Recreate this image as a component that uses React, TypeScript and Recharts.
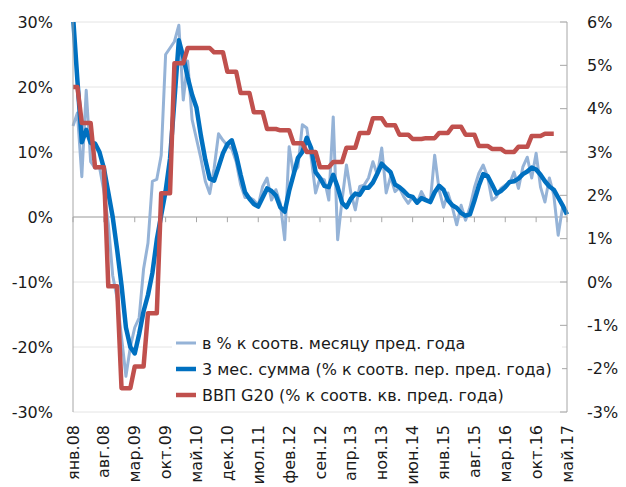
import React from "react";
import { LineChart, Line, XAxis, YAxis, CartesianGrid, ReferenceLine } from "recharts";

const MONTH_NAMES = ["янв", "фев", "мар", "апр", "май", "июн", "июл", "авг", "сен", "окт", "ноя", "дек"];
const YEARS = ["08", "09", "10", "11", "12", "13", "14", "15", "16", "17"];
const MONTH_COUNT = 113; // янв.08 .. май.17

const CATEGORIES: string[] = YEARS.flatMap((y) => MONTH_NAMES.map((m) => `${m}.${y}`)).slice(0, MONTH_COUNT);

// в % к соотв. месяцу пред. года (left axis)
const MONTHLY = [
  14.0, 16.0, 6.2, 19.5, 8.5, 7.5, 7.7, 4.0, -1.0, -9.0, -12.5, -18.5,
  -24.5, -20.0, -17.0, -15.5, -8.0, -4.0, 5.5, 5.8, 9.5, 25.0, 26.0, 27.0,
  29.5, 18.0, 24.0, 15.0, 12.0, 9.0, 5.5, 3.6, 7.5, 12.8, 11.8, 11.0,
  10.5, 8.5, 5.0, 3.0, 3.0, 2.6, 1.8, 4.7, 6.0, 2.6, 4.2, 2.1,
  -3.5, 10.8, 6.7, 7.7, 14.2, 13.7, 9.2, 3.7, 6.0, 5.7, 2.6, 15.4,
  -3.5, 2.6, 8.0, 3.7, 1.1, 4.7, 4.9, 6.0, 8.5, 6.5, 10.6, 3.7,
  6.2, 3.9, 4.5, 3.1, 2.1, 3.1, 2.1, 3.9, 2.6, 2.3, 9.5, 4.2,
  1.5, 3.7, 1.5, -1.2, 1.8, -0.5, 1.5, 4.5, 6.7, 8.0, 6.2, 2.6,
  3.1, 4.4, 4.9, 5.2, 6.9, 4.4, 7.7, 9.2, 6.0, 9.8, 4.6, 2.3,
  6.0, 3.4, -2.8, 1.5, 0.8,
];

// 3 мес. сумма (left axis)
const THREE_MONTH = [
  31.0, 21.0, 11.5, 13.4, 11.4, 11.3, 10.0, 7.5, 3.8, 0.0, -5.0, -10.5,
  -17.0, -20.0, -21.0, -18.0, -14.5, -12.0, -8.6, -3.5, 0.3, 4.0, 9.0, 18.0,
  27.2, 24.6, 21.5, 18.8, 16.8, 12.5, 8.8, 5.9, 5.6, 7.7, 9.8, 11.2,
  11.8, 9.5, 6.5, 3.8, 2.8, 2.0, 1.6, 3.0, 4.4, 4.0, 3.3, 1.5,
  0.8, 4.0, 6.5, 9.1, 10.0, 12.2, 10.6, 6.9, 6.0, 4.8, 4.6, 6.5,
  4.6, 2.2, 1.5, 2.8, 3.6, 3.4, 4.5, 4.5, 5.3, 6.7, 8.2, 7.5,
  6.9, 5.0, 4.6, 4.0, 3.3, 3.1, 2.2, 2.9, 2.6, 2.3, 3.8, 4.8,
  4.2, 2.6, 1.8, 1.4, 0.6, 0.2, 0.4, 2.5, 4.8, 6.6, 6.3, 5.0,
  3.6, 4.0, 4.6, 5.4, 5.5, 5.9, 6.6, 7.0, 7.6, 7.3, 6.5, 5.5,
  4.7, 4.2, 3.0, 1.8, 0.4,
];

// ВВП G20, quarterly value shown on each month (right axis)
const G20_GDP: (number | null)[] = [
  4.5, 4.5, 3.67, 3.67, 3.67, 2.65, 2.65, 2.65, -0.1, -0.1, -0.1, -2.45,
  -2.45, -2.45, -1.95, -1.95, -1.95, -0.72, -0.72, -0.72, 2.05, 2.05, 2.05, 5.05,
  5.05, 5.05, 5.4, 5.4, 5.4, 5.4, 5.4, 5.4, 5.3, 5.3, 5.3, 4.85,
  4.85, 4.85, 4.36, 4.36, 4.36, 3.92, 3.92, 3.92, 3.53, 3.53, 3.53, 3.5,
  3.5, 3.5, 3.2, 3.2, 3.2, 3.0, 3.0, 3.0, 2.65, 2.65, 2.65, 2.77,
  2.77, 2.77, 3.1, 3.1, 3.1, 3.44, 3.44, 3.44, 3.78, 3.78, 3.78, 3.62,
  3.62, 3.62, 3.4, 3.4, 3.4, 3.3, 3.3, 3.3, 3.32, 3.32, 3.32, 3.44,
  3.44, 3.44, 3.58, 3.58, 3.58, 3.4, 3.4, 3.4, 3.14, 3.14, 3.14, 3.07,
  3.07, 3.07, 3.0, 3.0, 3.0, 3.12, 3.12, 3.12, 3.37, 3.37, 3.37, 3.42,
  3.42, 3.42, null, null, null,
];

const LEFT_TICKS = [-30, -20, -10, 0, 10, 20, 30];
const RIGHT_TICKS = [-3, -2, -1, 0, 1, 2, 3, 4, 5, 6];

const SERIES = [
  { key: "monthly", name: "в % к соотв. месяцу пред. года", color: "#95B3D7", width: 3 },
  { key: "threeMonth", name: "3 мес. сумма (% к соотв. пер. пред. года)", color: "#0070C0", width: 4.5 },
  { key: "g20", name: "ВВП G20 (% к соотв. кв. пред. года)", color: "#C0504D", width: 4.5 },
];

const data = CATEGORIES.map((month, i) => ({
  month,
  monthly: MONTHLY[i],
  threeMonth: THREE_MONTH[i],
  g20: G20_GDP[i],
}));

const labelTicks = CATEGORIES.filter((_, i) => i % 7 === 0);

const FONT = "'DejaVu Sans', sans-serif";
const FONT_SIZE = 16;
const TEXT = "#1a1a1a";
const AXIS = "#a6a6a6";

const MonthTick = (props: any) => {
  const { x, y, payload } = props;
  return (
    <text
      x={x}
      y={y}
      transform={`rotate(-90 ${x} ${y})`}
      textAnchor="end"
      dominantBaseline="central"
      fontSize={FONT_SIZE}
      fontFamily={FONT}
      fill={TEXT}
    >
      {payload.value}
    </text>
  );
};

const RightTick = (props: any) => {
  const { x, y, payload } = props;
  return (
    <g>
      <line x1={x - 27} x2={x - 20} y1={y} y2={y} stroke={AXIS} />
      <text x={x} y={y} dy="0.35em" textAnchor="start" fontSize={FONT_SIZE} fontFamily={FONT} fill={TEXT}>
        {payload.value}%
      </text>
    </g>
  );
};

export default function App() {
  return (
    <div style={{ position: "absolute", left: 0, top: 0, width: 626, height: 487, background: "#fff" }}>
      <LineChart width={626} height={487} data={data} margin={{ top: 22, right: 0, bottom: 0, left: 0 }}>
        <CartesianGrid yAxisId="left" vertical={false} stroke="#e4e4e4" />
        <XAxis
          dataKey="month"
          interval={6}
          height={75}
          axisLine={false}
          tickLine={false}
          tickSize={0}
          tickMargin={13}
          tick={<MonthTick />}
        />
        <YAxis
          yAxisId="left"
          width={73}
          domain={[-30, 30]}
          ticks={LEFT_TICKS}
          allowDataOverflow
          tickFormatter={(v) => `${v}%`}
          tick={{ fontSize: FONT_SIZE, fontFamily: FONT, fill: TEXT }}
          axisLine={{ stroke: AXIS }}
          tickLine={false}
          tickSize={0}
          tickMargin={20}
        />
        <YAxis
          yAxisId="right"
          orientation="right"
          width={59}
          domain={[-3, 6]}
          ticks={RIGHT_TICKS}
          allowDataOverflow
          tick={<RightTick />}
          axisLine={{ stroke: AXIS }}
          tickLine={false}
          tickSize={0}
          tickMargin={20}
        />
        <ReferenceLine yAxisId="left" y={0} stroke={AXIS} />
        {labelTicks.map((m) => (
          <ReferenceLine
            key={m}
            yAxisId="left"
            stroke={AXIS}
            segment={[
              { x: m, y: 0 },
              { x: m, y: -0.8 },
            ]}
          />
        ))}
        {SERIES.map((s) => (
          <Line
            key={s.key}
            yAxisId={s.key === "g20" ? "right" : "left"}
            type="linear"
            dataKey={s.key}
            name={s.name}
            stroke={s.color}
            strokeWidth={s.width}
            strokeLinejoin="round"
            dot={false}
            activeDot={false}
            isAnimationActive={false}
          />
        ))}
      </LineChart>
      <div
        style={{
          position: "absolute",
          left: 172,
          top: 330,
          width: 390,
          background: "#fff",
          fontFamily: FONT,
          fontSize: FONT_SIZE,
          color: TEXT,
        }}
      >
        {SERIES.map((s) => (
          <div key={s.key} style={{ display: "flex", alignItems: "center", height: 26 }}>
            <svg width={30} height={10} style={{ flex: "none" }}>
              <line x1={4} x2={24} y1={5} y2={5} stroke={s.color} strokeWidth={s.width} />
            </svg>
            <span style={{ whiteSpace: "nowrap" }}>{s.name}</span>
          </div>
        ))}
      </div>
    </div>
  );
}
